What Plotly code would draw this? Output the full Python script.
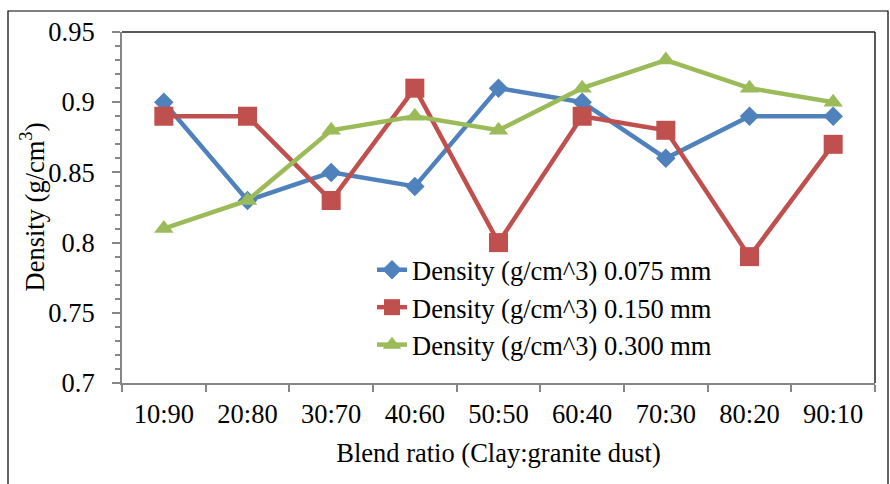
import plotly.graph_objects as go

categories = ["10:90", "20:80", "30:70", "40:60", "50:50", "60:40", "70:30", "80:20", "90:10"]
density_0075 = [0.90, 0.83, 0.85, 0.84, 0.91, 0.90, 0.86, 0.89, 0.89]
density_0150 = [0.89, 0.89, 0.83, 0.91, 0.80, 0.89, 0.88, 0.79, 0.87]
density_0300 = [0.81, 0.83, 0.88, 0.89, 0.88, 0.91, 0.93, 0.91, 0.90]
series_names = ["Density (g/cm^3) 0.075 mm", "Density (g/cm^3) 0.150 mm", "Density (g/cm^3) 0.300 mm"]
colors = ["#4F81BD", "#C0504D", "#9BBB59"]
symbols = ["diamond", "square", "triangle-up"]
marker_sizes = [15, 19, 17]

FONT = "Liberation Serif"
FS = 26.5

fig = go.Figure()
for vals, name, col, sym, ms in zip([density_0075, density_0150, density_0300], series_names, colors, symbols, marker_sizes):
    fig.add_trace(go.Scatter(
        x=categories, y=vals, name=name, mode="lines+markers",
        line=dict(color=col, width=4.5),
        marker=dict(symbol=sym, size=ms, color=col, line=dict(width=0)),
    ))

L, R, T, B = 122, 15, 32, 101
W, H = 890, 484
pw = W - L - R
ph = H - T - B

def px_x(x):
    return (x - L) / pw

def px_y(y):
    return (H - B - y) / ph

fig.update_layout(
    width=W, height=H,
    margin=dict(l=L, r=R, t=T, b=B, pad=0),
    paper_bgcolor="white", plot_bgcolor="white",
    font=dict(family=FONT, size=FS, color="black"),
    showlegend=True,
    legend=dict(
        x=px_x(372), y=px_y(246), xanchor="left", yanchor="top",
        bgcolor="rgba(0,0,0,0)", font=dict(family=FONT, size=FS, color="black"),
        itemwidth=30, tracegroupgap=0,
    ),
    xaxis=dict(
        type="category", tickson="boundaries",
        ticks="outside", ticklen=7, tickwidth=2, tickcolor="#868686",
        showline=True, linecolor="#868686", linewidth=2,
        showgrid=False, zeroline=False,
        tickfont=dict(family=FONT, size=FS, color="black"),
        ticklabelstandoff=6,
        title=dict(text="Blend ratio (Clay:granite dust)", font=dict(family=FONT, size=FS, color="black"), standoff=16),
        range=[-0.5, 8.5],
    ),
    yaxis=dict(
        range=[0.7, 0.95], dtick=0.05, tick0=0.7,
        ticks="outside", ticklen=8, tickwidth=2, tickcolor="#868686",
        minor=dict(dtick=0.01, ticks="outside", ticklen=5, tickwidth=1.5, tickcolor="#868686", showgrid=False),
        showline=True, linecolor="#868686", linewidth=2,
        showgrid=False, zeroline=False,
        tickfont=dict(family=FONT, size=FS, color="black"),
        ticklabelstandoff=12,
    ),
    annotations=[
        dict(text="Density (g/cm<sup>3</sup>)", xref="paper", yref="paper",
             x=px_x(32), y=0.5, xanchor="center", yanchor="middle", textangle=-90,
             showarrow=False, font=dict(family=FONT, size=FS, color="black")),
    ],
    shapes=[
        dict(type="line", xref="paper", yref="paper", x0=0, x1=1, y0=1, y1=1, line=dict(color="#222222", width=1.5)),
        dict(type="line", xref="paper", yref="paper", x0=1, x1=1, y0=0, y1=1, line=dict(color="#222222", width=1.5)),
        dict(type="rect", xref="paper", yref="paper", x0=px_x(8), x1=px_x(888), y0=px_y(495), y1=px_y(11),
             line=dict(color="black", width=1.2), fillcolor="rgba(0,0,0,0)", layer="below"),
    ],
)

fig.write_html("out.html")
